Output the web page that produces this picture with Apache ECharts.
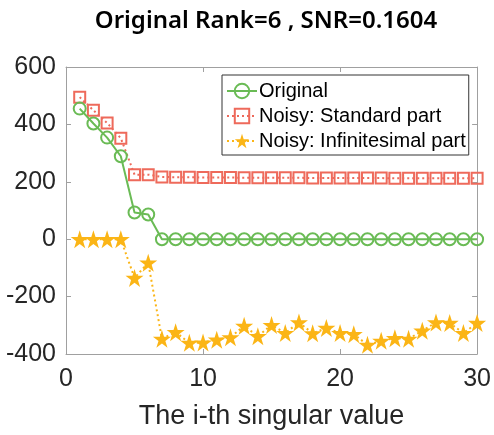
<!DOCTYPE html>
<html>
<head>
<meta charset="utf-8">
<script src="https://cdn.jsdelivr.net/npm/echarts@6/dist/echarts.min.js"></script>
<style>html,body{margin:0;padding:0;background:#fff;}#c{width:494px;height:435px;}</style>
</head>
<body>
<div id="c"></div>
<script>
var indices = [1,2,3,4,5,6,7,8,9,10,11,12,13,14,15,16,17,18,19,20,21,22,23,24,25,26,27,28,29,30];
var original = [455,403,354,289,93,86,0,0,0,0,0,0,0,0,0,0,0,0,0,0,0,0,0,0,0,0,0,0,0,0];
var standardPart = [495,449,405,352,225,225,217,216,216,215,215,215,214,214,214,214,214,213,213,213,213,213,213,212,212,212,212,212,212,212];
var infinitesimalPart = [0,0,0,0,-135,-82,-347,-324,-361,-360,-350,-342,-302,-338,-299,-327,-290,-328,-309,-327,-331,-368,-354,-345,-347,-319,-290,-292,-327,-292];
var xTicks = [0,10,20,30];
var yTicks = [-400,-200,0,200,400,600];

function pairs(vals){ return indices.map(function(x,i){ return [x, vals[i]]; }); }

var green = '#6abb55', red = '#ee6a5b', yellow = '#fbb516';
var star = 'path://M50,0 L61.8,36.3 L100,36.3 L69.1,58.8 L80.9,95.1 L50,72.7 L19.1,95.1 L30.9,58.8 L0,36.3 L38.2,36.3 Z';
var axisCol = '#a0a0a0';
var font = 'Liberation Sans, Arial, sans-serif';

var chart = echarts.init(document.getElementById('c'), null, {renderer:'canvas'});
chart.setOption({
  animation: false,
  backgroundColor: '#fff',
  title: {
    text: 'Original Rank=6 , SNR=0.1604',
    left: 261, textAlign: 'center', top: 4,
    textStyle: {fontSize: 24, fontWeight: 600, color: '#000', fontFamily: 'Noto Sans, sans-serif'}
  },
  grid: {left: 66, right: 15, top: 67, bottom: 77, containLabel: false},
  legend: {
    orient: 'vertical', left: 222, top: 75,
    backgroundColor: '#fff', borderColor: '#333', borderWidth: 1, borderRadius: 0,
    padding: [6, 3, 4, 4], itemGap: 5, itemWidth: 30, itemHeight: 18,
    textStyle: {fontSize: 20, color: '#000', fontFamily: font, padding: [0, 0, 0, -3]},
    data: ['Original', 'Noisy: Standard part', 'Noisy: Infinitesimal part']
  },
  xAxis: [{
    type: 'value', min: 0, max: 30, interval: 10, position: 'bottom',
    name: 'The i-th singular value', nameLocation: 'middle', nameGap: 49,
    nameTextStyle: {fontSize: 27, color: '#262626', fontFamily: font},
    axisLine: {show: true, onZero: false, lineStyle: {color: axisCol, width: 1}},
    axisTick: {show: true, inside: true, length: 5, lineStyle: {color: axisCol}},
    axisLabel: {fontSize: 25, color: '#262626', fontFamily: font, margin: 13,
      formatter: function(v){ return xTicks.indexOf(v) >= 0 ? String(v) : ''; }},
    splitLine: {show: false}
  }, {
    type: 'value', min: 0, max: 30, interval: 10, position: 'top',
    axisLine: {show: true, onZero: false, lineStyle: {color: axisCol, width: 1}},
    axisTick: {show: true, inside: true, length: 5, lineStyle: {color: axisCol}},
    axisLabel: {show: false}, splitLine: {show: false}
  }],
  yAxis: [{
    type: 'value', min: -400, max: 600, interval: 200, position: 'left',
    axisLine: {show: true, onZero: false, lineStyle: {color: axisCol, width: 1}},
    axisTick: {show: true, inside: true, length: 5, lineStyle: {color: axisCol}},
    axisLabel: {fontSize: 25, color: '#262626', fontFamily: font, margin: 10,
      formatter: function(v){ return yTicks.indexOf(v) >= 0 ? String(v) : ''; }},
    splitLine: {show: false}
  }, {
    type: 'value', min: -400, max: 600, interval: 200, position: 'right',
    axisLine: {show: true, onZero: false, lineStyle: {color: axisCol, width: 1}},
    axisTick: {show: true, inside: true, length: 5, lineStyle: {color: axisCol}},
    axisLabel: {show: false}, splitLine: {show: false}
  }],
  series: [{
    name: 'Original', type: 'line', data: pairs(original),
    symbol: 'circle', symbolSize: 12, z: 3,
    lineStyle: {color: green, width: 2},
    itemStyle: {color: 'rgba(0,0,0,0)', borderColor: green, borderWidth: 2}
  }, {
    name: 'Noisy: Standard part', type: 'line', data: pairs(standardPart),
    symbol: 'rect', symbolSize: 11, z: 2,
    lineStyle: {color: red, width: 2, type: [2, 3]},
    itemStyle: {color: 'rgba(0,0,0,0)', borderColor: red, borderWidth: 2}
  }, {
    name: 'Noisy: Infinitesimal part', type: 'line', data: pairs(infinitesimalPart),
    symbol: star, symbolSize: 18, z: 4,
    lineStyle: {color: yellow, width: 2, type: [2, 3]},
    itemStyle: {color: yellow, borderWidth: 0}
  }]
});
</script>
</body>
</html>
